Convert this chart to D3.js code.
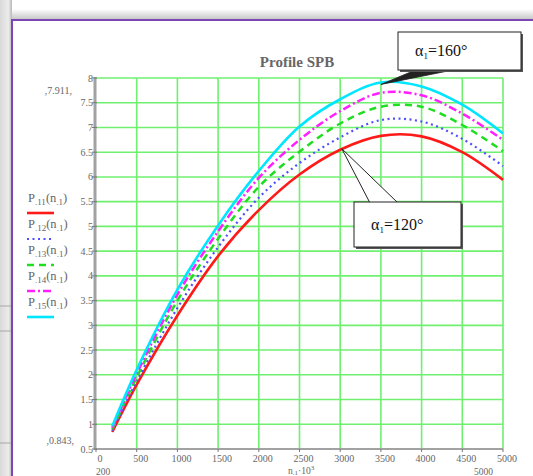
<!DOCTYPE html>
<html>
<head>
<meta charset="utf-8">
<script src="https://cdn.jsdelivr.net/npm/d3@7"></script>
<style>
  body { margin: 0; background: #ffffff; }
  text { font-family: "Liberation Serif", "DejaVu Serif", serif; }
</style>
</head>
<body>
<div id="chart"></div>
<script>

// speed n1 (rpm) and power curves for wrap angles 120..160 deg
var nVals = [200, 500, 1000, 1500, 2000, 2500, 3000, 3500, 4000, 4500, 5000];
var p11 = [0.843, 1.80, 3.20, 4.40, 5.33, 6.05, 6.55, 6.83, 6.82, 6.50, 5.94];
var p12 = [0.87, 1.87, 3.35, 4.58, 5.58, 6.28, 6.80, 7.15, 7.12, 6.77, 6.22];
var p13 = [0.90, 1.95, 3.50, 4.75, 5.80, 6.51, 7.08, 7.42, 7.42, 7.05, 6.52];
var p14 = [0.93, 2.02, 3.62, 4.90, 5.98, 6.75, 7.33, 7.70, 7.65, 7.28, 6.75];
var p15 = [0.96, 2.10, 3.72, 5.02, 6.12, 7.02, 7.57, 7.91, 7.83, 7.46, 6.88];

var seriesNames = ["11", "12", "13", "14", "15"];
var xTicks = [0, 500, 1000, 1500, 2000, 2500, 3000, 3500, 4000, 4500, 5000];
var yTicks = [0.5, 1, 1.5, 2, 2.5, 3, 3.5, 4, 4.5, 5, 5.5, 6, 6.5, 7, 7.5, 8];

var W = 533, H = 476;
var x = d3.scaleLinear().domain([0, 5000]).range([96, 503]);
var y = d3.scaleLinear().domain([0.5, 8]).range([449, 78]);

var styles = [
  {color: "#ff1a1a", width: 2.6, dash: null},
  {color: "#4f4fff", width: 2.2, dash: "2,3.5"},
  {color: "#1fdd1f", width: 2.5, dash: "7,5"},
  {color: "#ff1fff", width: 2.5, dash: "8,3,2,3"},
  {color: "#00e6ff", width: 2.6, dash: null}
];
var series = [p11, p12, p13, p14, p15];

var svg = d3.select("#chart").append("svg")
    .attr("width", W)
    .attr("height", H);

var defs = svg.append("defs");
var gl = defs.append("linearGradient").attr("id", "lshade");
gl.append("stop").attr("offset", "0%").attr("stop-color", "#d9d9d9");
gl.append("stop").attr("offset", "70%").attr("stop-color", "#ececec");
gl.append("stop").attr("offset", "100%").attr("stop-color", "#b8b8b8");
var gt = defs.append("linearGradient").attr("id", "tshade")
    .attr("x1", 0).attr("y1", 0).attr("x2", 0).attr("y2", 1);
gt.append("stop").attr("offset", "0%").attr("stop-color", "#ffffff");
gt.append("stop").attr("offset", "100%").attr("stop-color", "#c4c4c4");

// page background / frame
svg.append("rect").attr("x", 0).attr("y", 0).attr("width", 12).attr("height", H)
    .attr("fill", "url(#lshade)");
svg.append("rect").attr("x", 12).attr("y", 9).attr("width", W - 12).attr("height", 11)
    .attr("fill", "url(#tshade)");
[306, 331, 443].forEach(function(yy) {
  svg.append("line").attr("x1", 0).attr("x2", 12).attr("y1", yy).attr("y2", yy)
      .attr("stroke", "#9a9a9a").attr("stroke-width", 0.8);
});
svg.append("rect").attr("x", 12).attr("y", 20).attr("width", W).attr("height", H)
    .attr("fill", "#ffffff").attr("stroke", "#7d46b5").attr("stroke-width", 2);

// grid
var grid = svg.append("g").attr("stroke", "#6ff06f").attr("stroke-width", 1.6);
grid.selectAll(".vg").data(xTicks.slice(1)).enter().append("line")
    .attr("x1", function(d) { return x(d); }).attr("x2", function(d) { return x(d); })
    .attr("y1", y(0.5)).attr("y2", y(8));
grid.selectAll(".hg").data(yTicks.slice(1)).enter().append("line")
    .attr("x1", x(0)).attr("x2", x(5000))
    .attr("y1", function(d) { return y(d); }).attr("y2", function(d) { return y(d); });

// axes (grey, mathcad style)
svg.append("line").attr("x1", x(0) - 1).attr("x2", x(0) - 1).attr("y1", y(8) - 1).attr("y2", y(0.5) + 1)
    .attr("stroke", "#a2a2a2").attr("stroke-width", 3);
svg.append("line").attr("x1", x(0) - 2).attr("x2", x(5000)).attr("y1", y(0.5)).attr("y2", y(0.5))
    .attr("stroke", "#a2a2a2").attr("stroke-width", 2);

var yAxis = svg.append("g");
yAxis.selectAll("line").data(yTicks).enter().append("line")
    .attr("x1", x(0) - 4).attr("x2", x(0) + 1)
    .attr("y1", function(d) { return y(d); }).attr("y2", function(d) { return y(d); })
    .attr("stroke", "#777").attr("stroke-width", 1);
yAxis.selectAll("text").data(yTicks).enter().append("text")
    .attr("x", x(0) - 3)
    .attr("y", function(d) { return y(d) + 3.5; })
    .attr("text-anchor", "end")
    .style("font-size", "10px")
    .style("fill", "#666")
    .text(function(d) { return d; });

var xAxis = svg.append("g");
xAxis.selectAll("line").data(xTicks).enter().append("line")
    .attr("x1", function(d) { return x(d); }).attr("x2", function(d) { return x(d); })
    .attr("y1", y(0.5)).attr("y2", y(0.5) + 3)
    .attr("stroke", "#777").attr("stroke-width", 1);
xAxis.selectAll("text").data(xTicks).enter().append("text")
    .attr("x", function(d) { return x(d) + 4; })
    .attr("y", y(0.5) + 13)
    .attr("text-anchor", "middle")
    .style("font-size", "10px")
    .style("fill", "#666")
    .text(function(d) { return d; });

// axis limit markers
svg.append("text").attr("x", 72).attr("y", 94).attr("text-anchor", "end")
    .style("font-size", "10px").style("fill", "#666").text(",7.911,");
svg.append("text").attr("x", 74).attr("y", 444).attr("text-anchor", "end")
    .style("font-size", "10px").style("fill", "#666").text(",0.843,");
svg.append("text").attr("x", 96).attr("y", 475)
    .style("font-size", "9.5px").style("fill", "#666").text("200");
svg.append("text").attr("x", 474).attr("y", 475)
    .style("font-size", "9.5px").style("fill", "#666").text("5000");
var xl = svg.append("text").attr("x", 288).attr("y", 474)
    .style("font-size", "9.5px").style("fill", "#666");
xl.append("tspan").text("n");
xl.append("tspan").attr("dy", 1).style("font-size", "7px").text(".1");
xl.append("tspan").attr("dy", -1).text("\u00b710");
xl.append("tspan").attr("dy", -4).style("font-size", "7px").text("3");

// title
svg.append("text").attr("x", 297).attr("y", 67).attr("text-anchor", "middle")
    .style("font-size", "15px").style("font-weight", "bold").style("fill", "#666")
    .text("Profile SPB");

// curves
var line = d3.line()
    .x(function(d) { return x(d[0]); })
    .y(function(d) { return y(d[1]); })
    .curve(d3.curveCatmullRom.alpha(0.5));

svg.append("g").selectAll("path").data(series).enter().append("path")
    .attr("d", function(s) { return line(nVals.map(function(n, i) { return [n, s[i]]; })); })
    .attr("fill", "none")
    .attr("stroke", function(d, i) { return styles[i].color; })
    .attr("stroke-width", function(d, i) { return styles[i].width; })
    .attr("stroke-dasharray", function(d, i) { return styles[i].dash; });

// legend
var legend = svg.append("g").selectAll("g").data(seriesNames).enter().append("g")
    .attr("transform", function(d, i) { return "translate(0," + (i * 26) + ")"; });
var lt = legend.append("text").attr("x", 28).attr("y", 202)
    .style("font-size", "12.5px").style("fill", "#666");
lt.append("tspan").text("P");
lt.append("tspan").attr("dy", 3).style("font-size", "9px").text(function(d) { return "." + d; });
lt.append("tspan").attr("dy", -3).text("(n");
lt.append("tspan").attr("dy", 3).style("font-size", "9px").text(".1");
lt.append("tspan").attr("dy", -3).text(")");
legend.append("line").attr("x1", 27).attr("x2", 54).attr("y1", 213).attr("y2", 213)
    .attr("stroke", function(d, i) { return styles[i].color; })
    .attr("stroke-width", function(d, i) { return styles[i].width; })
    .attr("stroke-dasharray", function(d, i) { return styles[i].dash; });

// callouts
function callout(bx, by, bw, bh, label) {
  svg.append("rect").attr("x", bx + 2).attr("y", by + 2).attr("width", bw).attr("height", bh)
      .attr("fill", "#555");
  svg.append("rect").attr("x", bx).attr("y", by).attr("width", bw).attr("height", bh)
      .attr("fill", "#ffffff").attr("stroke", "#222").attr("stroke-width", 1);
  var t = svg.append("text").attr("x", bx + 17).attr("y", by + bh / 2 + 5)
      .style("font-size", "16px").style("fill", "#111");
  t.append("tspan").text("\u03b1");
  t.append("tspan").attr("dy", 3).style("font-size", "9px").text("1");
  t.append("tspan").attr("dy", -3).text("=" + label + "\u00b0");
}

var tip1 = [x(3500), y(p15[7]) + 2];
svg.append("path")
    .attr("d", "M" + tip1 + "L413,71L448,71Z")
    .attr("fill", "#222").attr("stroke", "#222").attr("stroke-width", 0.8);
callout(398, 32, 123, 38, "160");

var tip2 = [x(3020), y(6.57)];
svg.append("path")
    .attr("d", "M" + tip2 + "L370,203L398,203Z")
    .attr("fill", "#ffffff").attr("stroke", "#222").attr("stroke-width", 1);
callout(354, 202, 107, 45, "120");

</script>
</body>
</html>
